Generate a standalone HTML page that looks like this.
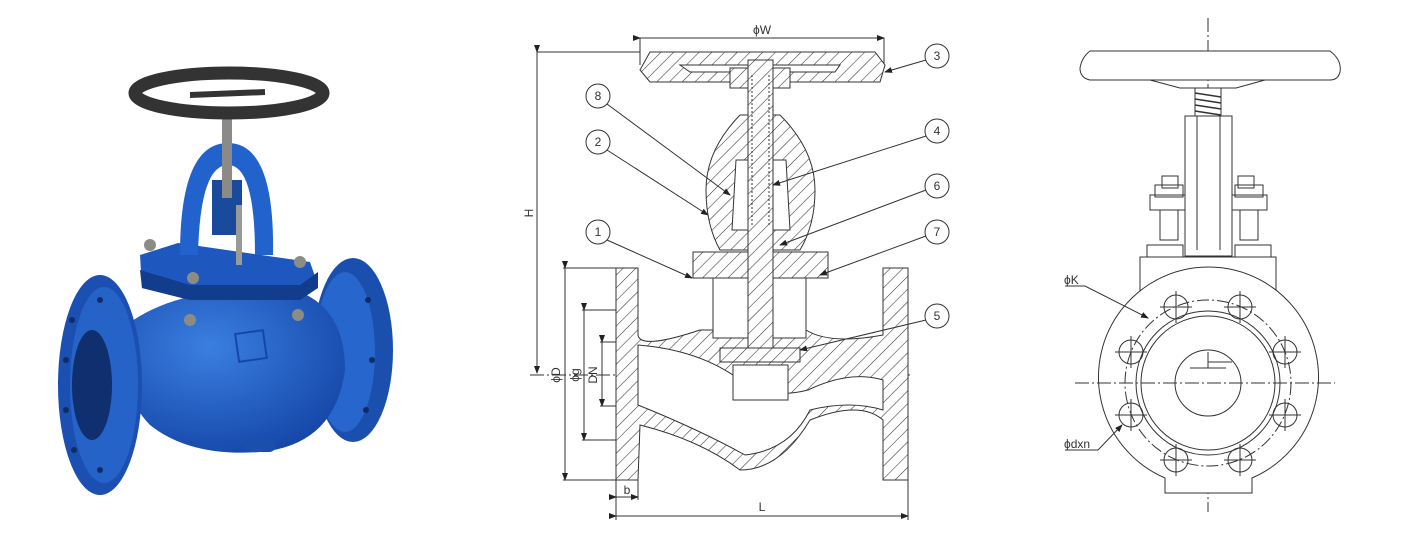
<!DOCTYPE html>
<html><head><meta charset="utf-8"><style>
html,body{margin:0;padding:0;background:#fff;}
svg{display:block;font-family:"Liberation Sans",sans-serif;}
</style></head><body>
<svg width="1413" height="539" viewBox="0 0 1413 539" xmlns="http://www.w3.org/2000/svg">
<defs>
<pattern id="h" width="9" height="9" patternUnits="userSpaceOnUse" patternTransform="rotate(45)">
<rect width="9" height="9" fill="#fff"/><line x1="0" y1="0" x2="0" y2="9" stroke="#333" stroke-width="1.1"/></pattern>
<radialGradient id="bl" cx="0.4" cy="0.35" r="0.7"><stop offset="0" stop-color="#3a7fe0"/><stop offset="1" stop-color="#1547a8"/></radialGradient>
<marker id="ar" markerWidth="8" markerHeight="6" refX="7" refY="3" orient="auto"><path d="M0,0 L8,3 L0,6z" fill="#222"/></marker>
</defs>

<!-- PHOTO -->
<g>
<ellipse cx="353" cy="350" rx="40" ry="92" fill="#1a4fae"/>
<ellipse cx="345" cy="352" rx="30" ry="80" fill="#2766cc"/>
<path d="M120,330 Q180,280 300,292 Q345,310 345,370 Q335,445 260,452 Q190,457 150,425 Q120,395 120,330z" fill="url(#bl)"/>
<rect x="245" y="440" width="30" height="12" rx="5" fill="#1a4fae"/>
<ellipse cx="100" cy="385" rx="42" ry="110" fill="#1b50b2"/>
<ellipse cx="104" cy="385" rx="34" ry="98" fill="#2563c8"/>
<ellipse cx="92" cy="385" rx="20" ry="55" fill="#0f2f6e"/>
<g fill="#0e2c66"><circle cx="72" cy="320" r="3"/><circle cx="66" cy="360" r="3"/><circle cx="66" cy="410" r="3"/><circle cx="74" cy="450" r="3"/><circle cx="100" cy="300" r="3"/><circle cx="100" cy="470" r="3"/><circle cx="368" cy="300" r="3"/><circle cx="372" cy="360" r="3"/><circle cx="366" cy="410" r="3"/></g>
<path d="M140,255 L178,243 L310,262 L318,285 L300,300 L190,300 L142,288z" fill="#1e58bf"/>
<path d="M140,270 L190,285 L300,285 L318,272 L318,288 L300,300 L190,300 L142,288z" fill="#123c8c"/>
<path d="M180,255 Q180,143 228,143 Q275,143 273,255 L255,255 Q255,165 228,165 Q200,165 198,255z" fill="#2262cc"/>
<rect x="212" y="180" width="30" height="55" fill="#1a4a9c"/>
<rect x="222" y="118" width="10" height="80" fill="#8a8a88"/>
<rect x="236" y="205" width="6" height="60" fill="#9a9a96"/>
<g fill="#8c8c84"><circle cx="150" cy="245" r="6"/><circle cx="300" cy="262" r="6"/><circle cx="193" cy="278" r="6"/><circle cx="298" cy="315" r="6"/><circle cx="190" cy="320" r="6"/></g>
<rect x="237" y="332" width="28" height="28" fill="none" stroke="#1547a8" stroke-width="2" transform="rotate(-8 251 346)"/>
<ellipse cx="229" cy="93" rx="94" ry="20" fill="none" stroke="#333" stroke-width="13"/>
<path d="M190,95 L265,92" stroke="#333" stroke-width="6"/>
</g>

<!-- SECTION DRAWING -->
<g stroke="#333" stroke-width="1" fill="none">
<line x1="640" y1="38" x2="884" y2="38" marker-start="url(#ar)" marker-end="url(#ar)"/>
<line x1="640" y1="38" x2="640" y2="65"/><line x1="884" y1="38" x2="884" y2="65"/>
<line x1="537" y1="52" x2="640" y2="52"/>
<line x1="537" y1="52" x2="537" y2="373" marker-start="url(#ar)" marker-end="url(#ar)"/>
<line x1="530" y1="375" x2="910" y2="375" stroke-dasharray="14 3 2 3"/>
<path d="M650,52 L875,52 L885,65 L880,82 L650,82 L640,70z" fill="url(#h)"/>
<path d="M680,65 L840,65 L835,72 L690,72z" fill="#fff"/>
<rect x="730" y="68" width="60" height="20" fill="url(#h)"/>
<path d="M740,115 L780,115 Q815,150 815,190 Q815,225 800,250 L720,250 Q706,225 706,190 Q706,150 740,115z" fill="url(#h)"/>
<path d="M736,160 L786,160 L790,230 L732,230z" fill="#fff"/>
<path d="M693,252 L828,252 L828,278 L693,278z" fill="url(#h)"/>
<path d="M616,268 L638,268 L638,335 Q640,350 700,330 L713,330 L713,278 L806,278 L806,330 Q830,345 883,335 L883,268 L908,268 L908,480 L883,480 L883,420 Q860,400 810,420 Q780,470 740,470 Q700,440 640,425 L638,480 L616,480z" fill="url(#h)"/>
<path d="M638,345 Q700,350 740,380 Q770,400 808,390 Q850,370 883,380 L883,410 Q850,400 810,410 Q790,450 745,455 Q700,430 638,405z" fill="#fff"/>
<rect x="713" y="278" width="93" height="60" fill="#fff"/>
<rect x="748" y="60" width="25" height="290" fill="url(#h)"/>
<line x1="752" y1="75" x2="752" y2="225" stroke-dasharray="2 2"/><line x1="769" y1="75" x2="769" y2="225" stroke-dasharray="2 2"/>
<rect x="720" y="348" width="80" height="14" fill="url(#h)"/>
<rect x="733" y="365" width="55" height="35" fill="#fff"/>
<line x1="563" y1="268" x2="616" y2="268"/><line x1="563" y1="480" x2="616" y2="480"/>
<line x1="565" y1="268" x2="565" y2="480" marker-start="url(#ar)" marker-end="url(#ar)"/>
<line x1="582" y1="310" x2="616" y2="310"/><line x1="582" y1="440" x2="616" y2="440"/>
<line x1="584" y1="310" x2="584" y2="440" marker-start="url(#ar)" marker-end="url(#ar)"/>
<line x1="600" y1="342" x2="616" y2="342"/><line x1="600" y1="406" x2="616" y2="406"/>
<line x1="602" y1="342" x2="602" y2="406" marker-start="url(#ar)" marker-end="url(#ar)"/>
<line x1="616" y1="480" x2="616" y2="520"/><line x1="638" y1="480" x2="638" y2="500"/><line x1="908" y1="480" x2="908" y2="520"/>
<line x1="616" y1="497" x2="638" y2="497" marker-start="url(#ar)" marker-end="url(#ar)"/>
<line x1="616" y1="516" x2="908" y2="516" marker-start="url(#ar)" marker-end="url(#ar)"/>
<line x1="926" y1="60" x2="885" y2="72" marker-end="url(#ar)"/>
<line x1="607" y1="104" x2="730" y2="195" marker-end="url(#ar)"/>
<line x1="926" y1="136" x2="773" y2="185" marker-end="url(#ar)"/>
<line x1="607" y1="150" x2="708" y2="215" marker-end="url(#ar)"/>
<line x1="926" y1="190" x2="780" y2="245" marker-end="url(#ar)"/>
<line x1="926" y1="236" x2="820" y2="275" marker-end="url(#ar)"/>
<line x1="607" y1="240" x2="692" y2="278" marker-end="url(#ar)"/>
<line x1="926" y1="320" x2="800" y2="350" marker-end="url(#ar)"/>
<g fill="#fff"><circle cx="937" cy="56" r="12"/><circle cx="598" cy="96" r="12"/><circle cx="937" cy="131" r="12"/><circle cx="598" cy="142" r="12"/><circle cx="937" cy="186" r="12"/><circle cx="937" cy="232" r="12"/><circle cx="598" cy="232" r="12"/><circle cx="937" cy="316" r="12"/></g>
</g>
<g font-size="12" fill="#333" text-anchor="middle">
<text x="937" y="60">3</text><text x="598" y="100">8</text><text x="937" y="135">4</text><text x="598" y="146">2</text><text x="937" y="190">6</text><text x="937" y="236">7</text><text x="598" y="236">1</text><text x="937" y="320">5</text>
<text x="762" y="34">ϕW</text><text x="627" y="494">b</text><text x="762" y="511">L</text>
<text transform="translate(533,213) rotate(-90)">H</text>
<text transform="translate(560,375) rotate(-90)">ϕD</text>
<text transform="translate(579,375) rotate(-90)">ϕg</text>
<text transform="translate(597,375) rotate(-90)">DN</text>
</g>

<!-- END VIEW -->
<g stroke="#333" stroke-width="1" fill="none">
<line x1="1208" y1="18" x2="1208" y2="512" stroke-dasharray="14 3 2 3"/>
<path d="M1090,51 L1330,51 Q1342,60 1340,72 Q1338,80 1330,80 L1090,80 Q1080,78 1080,68 Q1082,57 1090,51z" fill="#fff"/>
<path d="M1150,80 L1180,88 L1236,88 L1265,80"/>
<rect x="1195" y="88" width="26" height="28" fill="#fff"/>
<g stroke-width="1.5"><line x1="1195" y1="93" x2="1221" y2="97"/><line x1="1195" y1="99" x2="1221" y2="103"/><line x1="1195" y1="105" x2="1221" y2="109"/><line x1="1195" y1="111" x2="1221" y2="115"/></g>
<rect x="1185" y="116" width="47" height="140" fill="#fff"/>
<line x1="1197" y1="116" x2="1197" y2="250"/><line x1="1220" y1="116" x2="1220" y2="250"/>
<rect x="1162" y="176" width="16" height="12"/><rect x="1155" y="185" width="28" height="12"/><rect x="1150" y="195" width="35" height="15"/><rect x="1160" y="210" width="18" height="30"/>
<rect x="1238" y="176" width="16" height="12"/><rect x="1235" y="185" width="28" height="12"/><rect x="1232" y="195" width="35" height="15"/><rect x="1240" y="210" width="18" height="30"/>
<rect x="1147" y="245" width="36" height="12"/><rect x="1235" y="245" width="36" height="12"/>
<rect x="1140" y="257" width="136" height="35" fill="#fff"/>
<path d="M1165,493 L1165,478 A110,110 0 1 1 1252,478 L1252,493z" fill="#fff"/>
<circle cx="1208" cy="383" r="83" stroke-dasharray="12 3 2 3"/>
<circle cx="1208" cy="383" r="72"/><circle cx="1208" cy="383" r="67"/>
<circle cx="1208" cy="383" r="33"/>
<path d="M1208,352 L1208,368 M1208,362 L1232,362 M1190,368 L1226,368"/>
<line x1="1075" y1="383" x2="1335" y2="383" stroke-dasharray="14 3 2 3"/>
<g>
<circle cx="1176" cy="307" r="12"/><circle cx="1240" cy="307" r="12"/><circle cx="1131" cy="352" r="12"/><circle cx="1285" cy="352" r="12"/><circle cx="1131" cy="415" r="12"/><circle cx="1285" cy="415" r="12"/><circle cx="1176" cy="460" r="12"/><circle cx="1240" cy="460" r="12"/>
<path d="M1160,307h32M1176,291v32M1224,307h32M1240,291v32M1115,352h32M1131,336v32M1269,352h32M1285,336v32M1115,415h32M1131,399v32M1269,415h32M1285,399v32M1160,460h32M1176,444v32M1224,460h32M1240,444v32"/>
</g>
<path d="M1065,286 L1085,286 L1148,318" marker-end="url(#ar)"/>
<path d="M1065,450 L1098,450 L1122,425" marker-end="url(#ar)"/>
</g>
<g font-size="12" fill="#333"><text x="1064" y="284">ϕK</text><text x="1064" y="448">ϕdxn</text></g>
</svg>
</body></html>
